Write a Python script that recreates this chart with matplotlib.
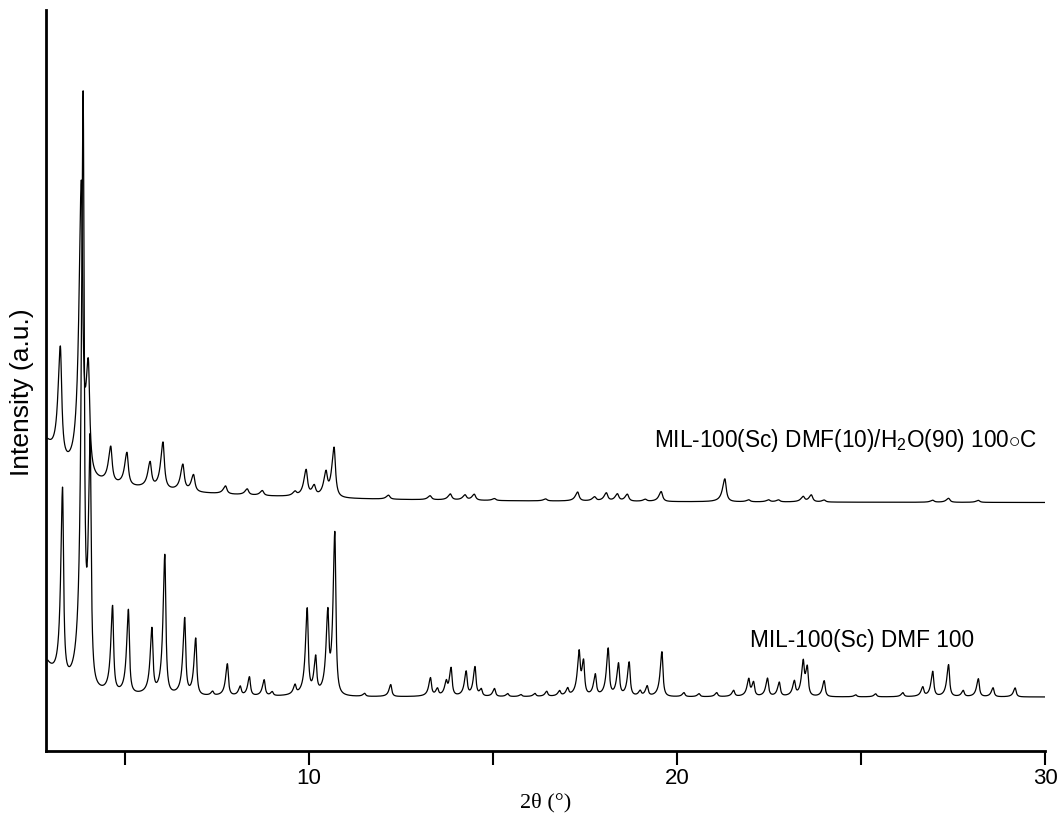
import numpy as np
import matplotlib
matplotlib.use("Agg")
import matplotlib.pyplot as plt

plt.rcParams["font.family"] = ["Liberation Sans", "DejaVu Sans"]
plt.rcParams["mathtext.fontset"] = "custom"
plt.rcParams["mathtext.rm"] = "Liberation Sans"
plt.rcParams["mathtext.it"] = "Liberation Sans:italic"

# ---- MIL-100(Sc) DMF 100 : peak list (2theta in deg, intensity a.u.) ----
dmf_pos = [3.30, 3.86, 4.05, 4.66, 5.09, 5.73, 6.08, 6.62, 6.92, 7.38,
           7.78, 8.13, 8.38, 8.78, 9.00, 9.62, 9.95, 10.18, 10.51, 10.70,
           11.51, 12.22, 13.30, 13.49, 13.73, 13.86, 14.27, 14.51, 14.68, 15.04,
           15.40, 15.76, 16.14, 16.46, 16.81, 17.03, 17.34, 17.46, 17.78, 18.13,
           18.41, 18.70, 19.00, 19.19, 19.59, 20.19, 20.60, 21.08, 21.54, 21.95,
           22.08, 22.46, 22.78, 23.19, 23.43, 23.54, 24.00, 24.86, 25.40, 26.14,
           26.68, 26.95, 27.38, 27.78, 28.19, 28.59, 29.19]
dmf_int = [190, 580, 242, 86, 84, 64, 140, 76, 57, 4,
           32, 9, 19, 16, 4, 9, 85, 36, 75, 163,
           3, 12, 18, 7, 12, 28, 24, 29, 7, 8,
           3, 2, 3, 5, 5, 7, 40, 34, 21, 47,
           32, 34, 5, 10, 45, 4, 3, 4, 6, 16,
           14, 18, 14, 14, 31, 29, 16, 2, 3, 4,
           9, 25, 32, 6, 18, 9, 9]
# low-angle scattering background
dmf_bg_pos = [2.5]
dmf_bg_int = [60]
dmf_bg_hw = [0.4]

# ---- MIL-100(Sc) DMF(10)/H2O(90) 100 C : peak list ----
h2o_pos = [3.24, 3.81, 4.00, 4.61, 5.05, 5.68, 6.03, 6.57, 6.86, 7.73,
           8.32, 8.73, 9.62, 9.92, 10.14, 10.46, 10.68, 12.16, 13.29, 13.84,
           14.24, 14.49, 15.04, 16.43, 17.30, 17.76, 18.08, 18.38, 18.65, 19.14,
           19.57, 21.30, 21.95, 22.49, 22.76, 23.43, 23.65, 24.00, 26.95, 27.38,
           28.19]
h2o_int = [112, 282, 106, 36, 33, 25, 47, 26, 17, 8,
           6, 5, 4, 26, 10, 22, 50, 4, 4, 6,
           5, 6, 2, 2, 9, 4, 8, 7, 7, 2,
           10, 23, 2, 2, 2, 5, 7, 2, 2, 4,
           2]
h2o_bg_pos = [2.5, 3.0]
h2o_bg_int = [60, 15]
h2o_bg_hw = [0.6, 5.0]

labels = ["MIL-100(Sc) DMF 100",
          r"MIL-100(Sc) DMF(10)/H$_2$O(90) 100$\circ$C"]


def split_lorentz(x, c, h, hw, asym):
    w = np.where(x < c, hw * asym, hw)
    return h * w ** 2 / ((x - c) ** 2 + w ** 2)


def pattern(x, pos, inten, hw, asym, bg_pos, bg_int, bg_hw):
    y = np.zeros_like(x)
    for c, h in zip(pos, inten):
        y += split_lorentz(x, c, h, hw, asym)
    for c, h, w in zip(bg_pos, bg_int, bg_hw):
        y += split_lorentz(x, c, h, w, 1.0)
    return y


tt = np.linspace(2.9, 30.0, 8000)
y_dmf = pattern(tt, dmf_pos, dmf_int, 0.032, 1.8, dmf_bg_pos, dmf_bg_int, dmf_bg_hw)
y_h2o = pattern(tt, h2o_pos, h2o_int, 0.045, 1.7, h2o_bg_pos, h2o_bg_int, h2o_bg_hw)

fig = plt.figure(figsize=(10.64, 8.19), dpi=100)
ax = fig.add_axes([46 / 1064, 68 / 819, (1045 - 46) / 1064, (751 - 10) / 819])

off_dmf, off_h2o = 54, 248
ax.plot(tt, y_dmf + off_dmf, color="black", lw=0.9)
ax.plot(tt, y_h2o + off_h2o, color="black", lw=0.9)

ax.set_xlim(2.85, 30)
ax.set_ylim(0, 741)

ax.spines["top"].set_visible(False)
ax.spines["right"].set_visible(False)
ax.spines["left"].set_linewidth(2.0)
ax.spines["bottom"].set_linewidth(2.0)
ax.set_yticks([])
ax.set_xticks([5, 10, 15, 20, 25, 30])
ax.set_xticklabels(["", "10", "", "20", "", "30"])
ax.tick_params(axis="x", direction="out", length=10, width=1.5,
               labelsize=16, pad=2)

ax.set_xlabel("2θ (°)", family=["Liberation Serif", "DejaVu Serif"],
              fontsize=16, labelpad=3)
ax.set_ylabel("Intensity (a.u.)", fontsize=19)
ax.yaxis.set_label_coords(-0.012, 0.4845)

ax.text(21.97, 104, labels[0], fontsize=16.3, ha="left", va="baseline")
ax.text(19.38, 304, labels[1], fontsize=16.3, ha="left", va="baseline")

fig.savefig("out.png", dpi=100)
